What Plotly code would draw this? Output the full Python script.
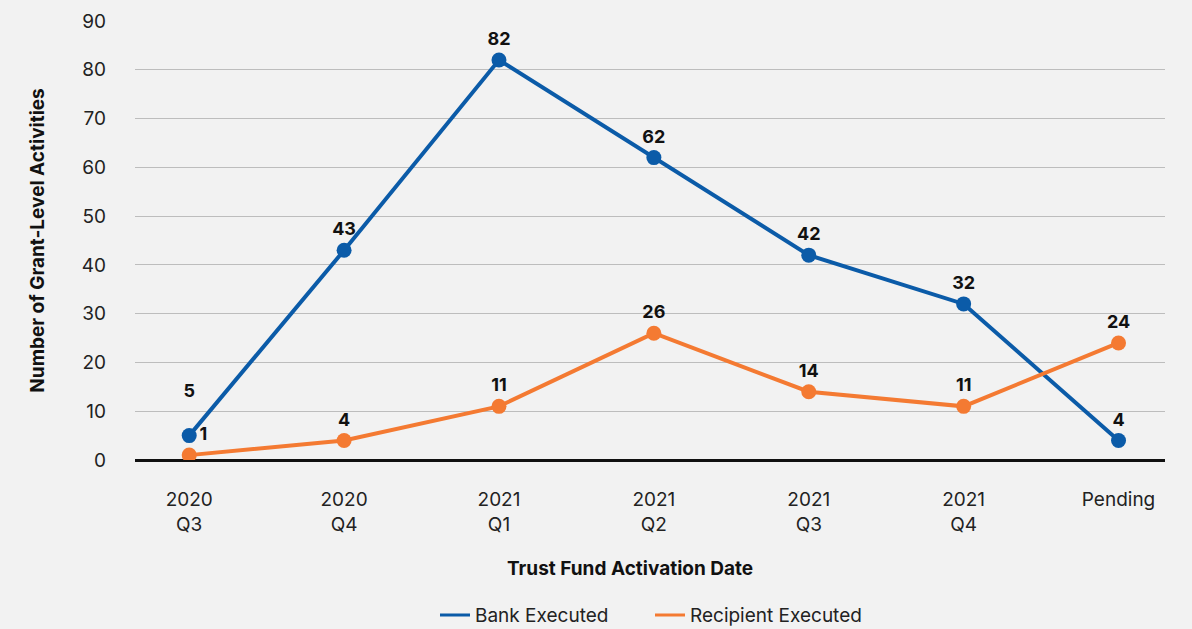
import plotly.graph_objects as go

CATEGORIES = ["2020<br>Q3", "2020<br>Q4", "2021<br>Q1", "2021<br>Q2",
              "2021<br>Q3", "2021<br>Q4", "Pending"]
BANK = [5, 43, 82, 62, 42, 32, 4]
RECIPIENT = [1, 4, 11, 26, 14, 11, 24]

BLUE = "#0b5ba8"
ORANGE = "#f47a32"
FONT = "Inter, Roboto, sans-serif"
LABEL_FONT = dict(size=18, color="#111", family=FONT, weight="bold")

bank_text = [str(v) for v in BANK]
bank_text[0] += "<br> "  # lift first label clear of the orange one

fig = go.Figure()
fig.add_scatter(x=CATEGORIES, y=BANK, name="Bank Executed", showlegend=False,
                mode="lines+markers+text", text=bank_text,
                textposition="top center", textfont=LABEL_FONT,
                line=dict(color=BLUE, width=4), marker=dict(size=15, color=BLUE))
fig.add_scatter(x=CATEGORIES, y=RECIPIENT, name="Recipient Executed", showlegend=False,
                mode="lines+markers+text", text=[str(v) for v in RECIPIENT],
                textposition=["top right"] + ["top center"] * 6, textfont=LABEL_FONT,
                line=dict(color=ORANGE, width=4), marker=dict(size=15, color=ORANGE))
# legend entries as plain lines
fig.add_scatter(x=[None], y=[None], name="Bank Executed", mode="lines",
                line=dict(color=BLUE, width=3))
fig.add_scatter(x=[None], y=[None], name="Recipient Executed", mode="lines",
                line=dict(color=ORANGE, width=3))

fig.update_layout(
    width=1192, height=629,
    paper_bgcolor="#f2f2f2", plot_bgcolor="#f2f2f2",
    font=dict(family=FONT, size=19, color="#222"),
    margin=dict(l=135, r=27, t=21, b=169, autoexpand=False),
    legend=dict(orientation="h", x=0.5, xanchor="center", yref="container",
                y=0.022, yanchor="middle", font=dict(size=19), tracegroupgap=0,
                entrywidth=170, entrywidthmode="pixels"),
    xaxis=dict(range=[-0.35, 6.3], showgrid=False, ticks="", automargin=False,
               ticklabelstandoff=26),
    yaxis=dict(range=[0, 90], dtick=10, gridcolor="#bdbdbd", gridwidth=1,
               zeroline=True, zerolinecolor="#111", zerolinewidth=3,
               ticks="", ticklabelstandoff=28, automargin=False),
    annotations=[
        dict(text="<b>Trust Fund Activation Date</b>", xref="paper", yref="paper",
             x=0.481, y=-0.248, xanchor="center", yanchor="middle", showarrow=False,
             font=dict(size=19, color="#111")),
        dict(text="<b>Number of Grant-Level Activities</b>", xref="paper", yref="paper",
             x=-0.095, y=0.5, xanchor="center", yanchor="middle", showarrow=False,
             textangle=-90, font=dict(size=19, color="#111")),
    ],
)

fig.write_html("out.html", config={"displayModeBar": False},
               post_script="document.body.style.margin='0';")
